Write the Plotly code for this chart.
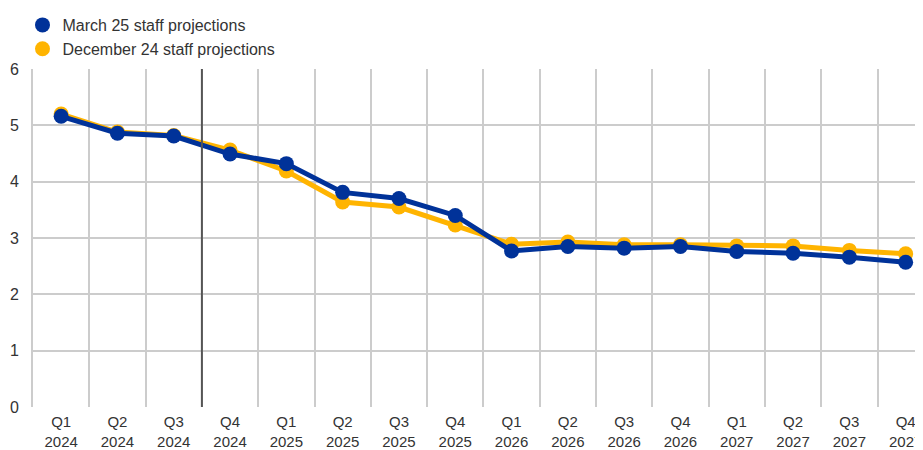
import plotly.graph_objects as go

quarters = ["Q1", "Q2", "Q3", "Q4"] * 4
years = ["2024"] * 4 + ["2025"] * 4 + ["2026"] * 4 + ["2027"] * 4
labels = [f"{q}<br>{y}" for q, y in zip(quarters, years)]

march25 = [5.16, 4.86, 4.81, 4.49, 4.32, 3.81, 3.70, 3.40,
           2.77, 2.85, 2.82, 2.85, 2.76, 2.73, 2.66, 2.57]
dec24 = [5.20, 4.88, 4.82, 4.56, 4.19, 3.64, 3.55, 3.23,
         2.89, 2.93, 2.88, 2.88, 2.86, 2.86, 2.78, 2.72]

blue = "#003299"
yellow = "#FFB400"

fig = go.Figure()
# yellow drawn first so the blue line sits on top
fig.add_trace(go.Scatter(x=labels, y=dec24, showlegend=False,
                         mode="lines+markers", line=dict(color=yellow, width=5),
                         marker=dict(size=15, color=yellow)))
fig.add_trace(go.Scatter(x=labels, y=march25, showlegend=False,
                         mode="lines+markers", line=dict(color=blue, width=5),
                         marker=dict(size=15, color=blue)))
# legend entries: dots only
fig.add_trace(go.Scatter(x=[None], y=[None], name="March 25 staff projections",
                         mode="markers", marker=dict(size=15, color=blue)))
fig.add_trace(go.Scatter(x=[None], y=[None], name="December 24 staff projections",
                         mode="markers", marker=dict(size=15, color=yellow)))

# cut-off line between published and projected quarters
fig.add_shape(type="line", xref="x", yref="paper", x0=2.5, x1=2.5, y0=0, y1=1,
              line=dict(color="#555555", width=2))

# page body has an 8px margin, so margins are trimmed to compensate
fig.update_layout(
    width=923, height=450,
    margin=dict(l=25, r=0, t=61, b=51, autoexpand=False),
    plot_bgcolor="white", paper_bgcolor="white",
    font=dict(family="Liberation Sans, Arial", size=16, color="#333333"),
    showlegend=True,
    legend=dict(x=0.0157, y=1.009, xref="container", yref="container",
                xanchor="left", yanchor="top", font=dict(size=16),
                itemwidth=30, tracegroupgap=0, bgcolor="rgba(0,0,0,0)"),
)
fig.update_xaxes(type="category", tickson="boundaries", range=[-0.5, 15.45],
                 showgrid=True, gridcolor="#cccccc", gridwidth=2, tickangle=0,
                 tickfont=dict(size=15), ticklabelstandoff=4,
                 automargin=False, showline=False, ticks="", zeroline=False)
fig.update_yaxes(range=[0, 6], dtick=1, showgrid=True, gridcolor="#cccccc", gridwidth=2,
                 showline=True, linecolor="#cccccc", linewidth=2, ticks="",
                 tickfont=dict(size=16), automargin=False, zeroline=False,
                 ticklabelstandoff=9)

fig.write_html("out.html")
